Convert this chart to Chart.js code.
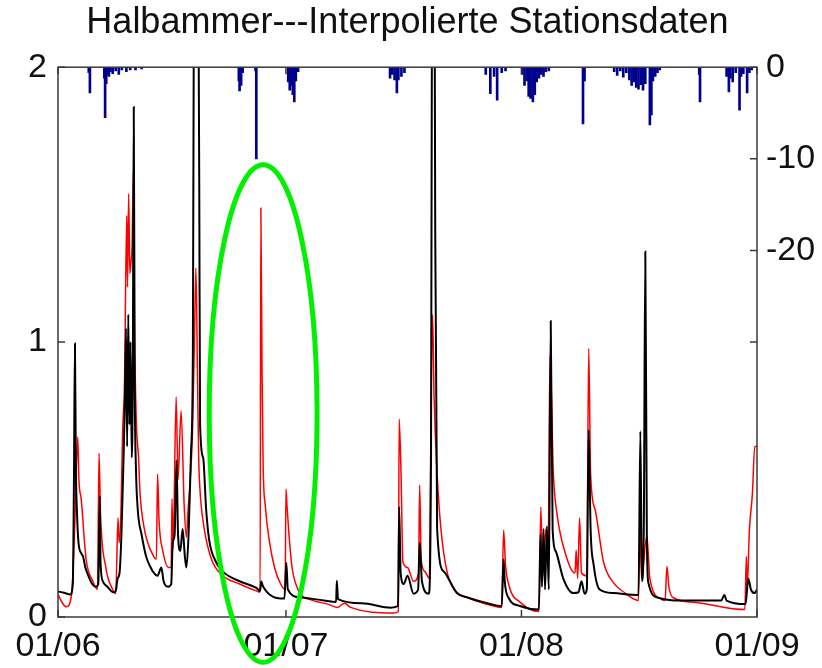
<!DOCTYPE html>
<html>
<head>
<meta charset="utf-8">
<script src="https://cdn.jsdelivr.net/npm/chart.js@4.4.0/dist/chart.umd.min.js"></script>
<style>
  html, body { margin: 0; padding: 0; background: #fff; }
  #box { width: 822px; height: 668px; }
</style>
</head>
<body>
<div id="box"><canvas id="abfluss" width="822" height="668"></canvas></div>
<script>
// Zeitachse: Tage ab 01.06.
const monatsTicks = [0, 30, 61, 92];
const monatsLabels = ['01/06', '01/07', '01/08', '01/09'];
const pegelTicks = [0, 1, 2];
const regenTicks = [0, -10, -20];
const regenStriche = [0, -10, -20, -30];

// gemessener Abfluss (schwarz)
const gemessenTag = [0, 0.8, 1.6, 1.95, 2.1, 2.23, 2.35, 2.5, 2.7, 3.1, 3.3, 3.6, 4.0, 4.5, 5.0, 5.3, 5.5, 5.6, 5.9, 6.5,
  7.3, 7.6, 7.85, 8.1, 8.35, 8.6, 8.8, 8.95, 9.1, 9.25, 9.4, 9.55, 9.7, 9.85, 9.97, 10.1, 10.25, 10.5, 11.0, 11.6,
  12.2, 12.5, 13.1, 13.6, 13.9, 14.5, 14.9, 15.1, 15.35, 15.6, 15.8, 16.1, 16.4, 16.7, 16.9, 17.2, 17.5, 17.75, 17.9, 18.1,
  18.3, 18.45, 18.6, 18.7, 19.1, 19.5, 19.9, 20.8, 21.7, 23.9, 26.1, 26.6, 26.75, 27.0, 29.8, 30.05, 30.25, 31.8, 35.0, 36.6,
  36.7, 36.85, 40.0, 43.8, 44.75, 44.9, 45.1, 45.5, 46.0, 46.8, 47.4, 47.6, 47.9, 48.8, 49.1, 49.25, 49.5, 49.65, 49.9, 50.8,
  52.5, 53.8, 56.0, 58.4, 58.65, 58.8, 59.3, 60.8, 63.3, 63.5, 63.7, 63.9, 64.1, 64.35, 64.6, 64.85, 65.1, 65.5, 66.5, 67.8,
  68.5, 68.9, 69.3, 69.6, 69.85, 70.1, 70.5, 71.3, 73.1, 76.4, 76.65, 76.85, 77.1, 77.3, 77.5, 77.7, 79.0, 81.2, 87.3, 87.7,
  88.0, 90.5, 90.85, 91.2, 91.7, 92];
const gemessenQ = [0.093, 0.088, 0.082, 0.12, 0.5, 0.995, 0.55, 0.38, 0.27, 0.23, 0.22, 0.18, 0.15, 0.12, 0.11, 0.12, 0.44, 0.2, 0.13, 0.11,
  0.09, 0.095, 0.14, 0.16, 0.3, 0.55, 0.78, 1.05, 0.62, 1.1, 0.7, 1.0, 0.58, 0.9, 1.855, 0.85, 0.55, 0.39, 0.3, 0.22,
  0.18, 0.165, 0.15, 0.18, 0.13, 0.11, 0.12, 0.27, 0.3, 0.57, 0.3, 0.24, 0.32, 0.22, 0.18, 0.31, 0.595, 0.95, 2.4, 2.9,
  3.0, 2.5, 1.5, 0.7, 0.58, 0.39, 0.28, 0.2, 0.165, 0.13, 0.106, 0.095, 0.13, 0.11, 0.067, 0.197, 0.1, 0.072, 0.06, 0.055,
  0.132, 0.065, 0.05, 0.034, 0.04, 0.40, 0.16, 0.12, 0.15, 0.085, 0.1, 0.27, 0.13, 0.085, 0.6, 2.6, 2.8, 1.4, 0.32, 0.165,
  0.087, 0.072, 0.054, 0.04, 0.21, 0.13, 0.07, 0.04, 0.027, 0.30, 0.11, 0.32, 0.1, 0.33, 0.1, 1.077, 0.32, 0.24, 0.14, 0.087,
  0.09, 0.13, 0.085, 0.1, 0.68, 0.32, 0.19, 0.10, 0.087, 0.08, 0.676, 0.13, 0.32, 1.33, 0.3, 0.125, 0.07, 0.06, 0.06, 0.08,
  0.06, 0.047, 0.14, 0.1, 0.087, 0.1];

// simulierter Abfluss mit interpolierten Stationsdaten (rot)
const simuliertTag = [0, 0.6, 1.1, 1.8, 2.2, 2.6, 2.75, 3.05, 3.7, 4.6, 5.2, 5.4, 5.6, 6.3, 7.2, 7.6, 7.9, 8.05, 8.3, 8.5,
  8.75, 9.05, 9.15, 9.3, 9.45, 9.6, 9.75, 9.93, 10.05, 10.3, 10.6, 10.8, 11.3, 11.7, 12.6, 12.95, 13.1, 13.3, 13.8, 14.6,
  14.9, 15.0, 15.15, 15.55, 15.8, 16.2, 16.6, 16.9, 17.1, 17.4, 17.7, 17.95, 18.15, 18.35, 18.5, 18.65, 19.2, 20.2, 21.7, 23.9,
  26.1, 26.6, 26.7, 26.85, 27.0, 27.3, 27.8, 28.5, 29.3, 29.9, 30.0, 30.15, 30.4, 30.8, 31.3, 32.0, 33.0, 35.7, 36.8, 37.7,
  38.5, 44.2, 44.8, 44.9, 45.15, 45.4, 46.0, 46.8, 47.45, 47.6, 47.8, 48.3, 48.9, 49.1, 49.3, 49.5, 49.9, 50.4, 51.2, 52.5,
  53.8, 56.0, 58.4, 58.65, 58.9, 59.4, 60.8, 63.3, 63.55, 63.8, 64.2, 64.5, 64.75, 65.2, 65.6, 66.9, 68.05, 68.2, 68.4, 68.65,
  68.9, 69.6, 69.85, 70.1, 70.7, 71.8, 73.1, 74.5, 76.4, 76.6, 76.8, 77.5, 77.9, 79.4, 79.9, 80.15, 80.4, 81.0, 83.7, 90.4,
  90.6, 90.7, 91.0, 91.4, 91.7, 92];
const simuliertQ = [0.082, 0.05, 0.037, 0.085, 0.33, 0.655, 0.5, 0.43, 0.21, 0.13, 0.10, 0.596, 0.37, 0.18, 0.10, 0.085, 0.36, 0.27, 0.4, 0.67,
  0.85, 1.46, 1.2, 1.54, 1.25, 1.29, 1.35, 1.62, 1.11, 0.72, 0.58, 0.45, 0.33, 0.28, 0.22, 0.21, 0.52, 0.35, 0.24, 0.18,
  0.18, 0.43, 0.25, 0.80, 0.5, 0.75, 0.41, 0.29, 0.38, 0.5, 0.67, 1.0, 1.27, 0.9, 0.6, 0.48, 0.33, 0.21, 0.15, 0.12,
  0.095, 0.09, 1.488, 0.9, 0.55, 0.4, 0.28, 0.18, 0.12, 0.1, 0.466, 0.4, 0.3, 0.18, 0.12, 0.08, 0.065, 0.045, 0.035, 0.05,
  0.035, 0.015, 0.02, 0.72, 0.52, 0.20, 0.18, 0.13, 0.16, 0.48, 0.21, 0.165, 0.14, 0.78, 1.1, 0.8, 0.52, 0.32, 0.165, 0.09,
  0.072, 0.05, 0.035, 0.316, 0.19, 0.11, 0.054, 0.02, 0.40, 0.15, 0.32, 0.2, 0.95, 0.52, 0.39, 0.22, 0.16, 0.243, 0.14, 0.36,
  0.16, 0.15, 0.977, 0.52, 0.39, 0.20, 0.125, 0.09, 0.06, 0.335, 0.14, 0.296, 0.14, 0.065, 0.06, 0.184, 0.11, 0.07, 0.054, 0.027,
  0.22, 0.1, 0.317, 0.45, 0.62, 0.62];

// Niederschlag (blau, nach unten von der oberen Achse)
const regenTag = [4.05, 4.2, 6.1, 6.2, 6.35, 6.5, 6.7, 6.9, 7.2, 7.6, 8.0, 8.4, 9.0, 9.5, 10.2, 11.0,
  23.8, 23.9, 24.1, 24.3, 26.0, 26.1, 30.3, 30.5, 30.7, 30.9, 31.1, 31.3, 31.6,
  43.7, 44.0, 44.3, 44.6, 44.8, 45.2, 45.6,
  56.3, 56.9, 57.4, 57.8, 58.4, 58.9,
  61.1, 61.4, 61.7, 61.95, 62.2, 62.5, 62.75, 63.0, 63.3, 63.6, 63.9, 64.2, 64.6,
  69.1, 69.3,
  73.2, 73.6, 74.0, 74.4, 74.8, 75.2, 75.5, 75.8, 76.1, 76.4, 76.7, 77.0, 77.3, 77.9, 78.1, 78.3, 78.6, 78.9, 79.2,
  84.4, 84.5,
  88.0, 88.3, 88.5, 88.8, 89.2, 89.7, 89.9, 90.2, 90.7, 91.0, 91.3];
const regenMm = [-0.6, -2.8, -1.2, -5.5, -1.8, -0.8, -1.0, -0.5, -0.7, -0.4, -0.8, -0.3, -0.5, -0.3, -0.3, -0.2,
  -1.5, -2.6, -2.0, -0.6, -0.4, -10.0, -1.6, -2.5, -2.0, -3.0, -3.8, -1.5, -0.5,
  -1.2, -0.8, -1.4, -2.8, -1.4, -1.0, -0.6,
  -0.8, -2.9, -1.0, -3.6, -0.6, -0.4,
  -0.8, -2.0, -1.5, -3.2, -3.4, -3.8, -3.0, -1.6, -1.2, -0.8, -1.0, -0.5, -0.4,
  -6.2, -1.5,
  -0.5, -0.9, -0.4, -1.1, -0.6, -1.4, -2.0, -1.6, -2.2, -2.4, -1.9, -2.5, -1.8, -6.3, -5.2, -1.5, -1.0, -0.6, -0.3,
  -0.8, -3.8,
  -1.0, -2.7, -1.2, -1.6, -0.6, -4.7, -1.0, -0.7, -2.8, -0.6, -0.3];

// Markierung um das Ereignis Ende Juni (Mitte und Halbachsen in Achseneinheiten)
const markeMitte = [27.0, 0.74];
const markeRadius = [7.1, 0.905];

const punkte = (xs, ys) => xs.map((x, i) => ({ x: x, y: ys[i] }));

const schrift = 'Liberation Sans, Arial, Helvetica, sans-serif';

// Rahmen mit nach innen zeigenden Strichen
const rahmen = {
  id: 'rahmen',
  afterDatasetsDraw(chart) {
    const { ctx, chartArea: a, scales } = chart;
    const len = 7;
    ctx.save();
    ctx.strokeStyle = '#3a3a3a';
    ctx.lineWidth = 1.5;
    ctx.strokeRect(a.left, a.top, a.right - a.left, a.bottom - a.top);
    ctx.beginPath();
    monatsTicks.forEach(t => {
      const x = scales.x.getPixelForValue(t);
      ctx.moveTo(x, a.bottom); ctx.lineTo(x, a.bottom - len);
      ctx.moveTo(x, a.top); ctx.lineTo(x, a.top + len);
    });
    pegelTicks.forEach(t => {
      const y = scales.y.getPixelForValue(t);
      ctx.moveTo(a.left, y); ctx.lineTo(a.left + len, y);
    });
    regenStriche.forEach(t => {
      const y = scales.y2.getPixelForValue(t);
      ctx.moveTo(a.right, y); ctx.lineTo(a.right - len, y);
    });
    ctx.stroke();
    ctx.restore();
  }
};

const markierung = {
  id: 'markierung',
  afterDraw(chart) {
    const { ctx, scales: { x, y } } = chart;
    const cx = x.getPixelForValue(markeMitte[0]);
    const cy = y.getPixelForValue(markeMitte[1]);
    const rx = x.getPixelForValue(markeMitte[0] + markeRadius[0]) - cx;
    const ry = cy - y.getPixelForValue(markeMitte[1] + markeRadius[1]);
    ctx.save();
    ctx.strokeStyle = '#00f000';
    ctx.lineWidth = 5;
    ctx.beginPath();
    ctx.ellipse(cx, cy, rx, ry, 0, 0, 2 * Math.PI);
    ctx.stroke();
    ctx.restore();
  }
};

const ctx = document.getElementById('abfluss');

const chart = new Chart(ctx, {
  type: 'line',
  data: {
    datasets: [
      {
        label: 'gemessen',
        data: punkte(gemessenTag, gemessenQ),
        borderColor: '#000',
        borderWidth: 2,
        pointRadius: 0,
        cubicInterpolationMode: 'monotone',
        yAxisID: 'y'
      },
      {
        label: 'simuliert',
        data: punkte(simuliertTag, simuliertQ),
        borderColor: '#ff0000',
        borderWidth: 1.5,
        pointRadius: 0,
        cubicInterpolationMode: 'monotone',
        yAxisID: 'y'
      },
      {
        type: 'bar',
        label: 'Niederschlag',
        data: punkte(regenTag, regenMm),
        backgroundColor: '#00008f',
        borderWidth: 0,
        barThickness: 2,
        yAxisID: 'y2'
      }
    ]
  },
  options: {
    responsive: false,
    animation: false,
    devicePixelRatio: 1,
    layout: { padding: 0 },
    plugins: {
      legend: { display: false },
      tooltip: { enabled: false },
      title: {
        display: true,
        fullSize: false,
        text: 'Halbammer---Interpolierte Stationsdaten',
        color: '#111',
        font: { family: schrift, size: 36, weight: 'normal' },
        padding: { top: 1, bottom: 23 }
      }
    },
    scales: {
      x: {
        type: 'linear',
        min: 0,
        max: 92,
        offset: false,
        grid: { display: false, drawTicks: false },
        border: { display: false },
        afterBuildTicks: s => { s.ticks = monatsTicks.map(v => ({ value: v })); },
        afterFit: s => { s.height = 51; },
        ticks: {
          autoSkip: false,
          maxRotation: 0,
          padding: 9,
          color: '#111',
          font: { family: schrift, size: 34 },
          callback: v => monatsLabels[monatsTicks.indexOf(v)]
        }
      },
      y: {
        position: 'left',
        min: 0,
        max: 2,
        grid: { display: false, drawTicks: false },
        border: { display: false },
        afterBuildTicks: s => { s.ticks = pegelTicks.map(v => ({ value: v })); },
        afterFit: s => { s.width = 58; },
        ticks: {
          padding: 11,
          color: '#111',
          font: { family: schrift, size: 34 }
        }
      },
      y2: {
        position: 'right',
        min: -60,
        max: 0,
        grid: { display: false, drawTicks: false },
        border: { display: false },
        afterBuildTicks: s => { s.ticks = regenTicks.map(v => ({ value: v })); },
        afterFit: s => { s.width = 65; },
        ticks: {
          padding: 9,
          color: '#111',
          font: { family: schrift, size: 34 }
        }
      }
    }
  },
  plugins: [rahmen, markierung]
});
</script>
</body>
</html>
